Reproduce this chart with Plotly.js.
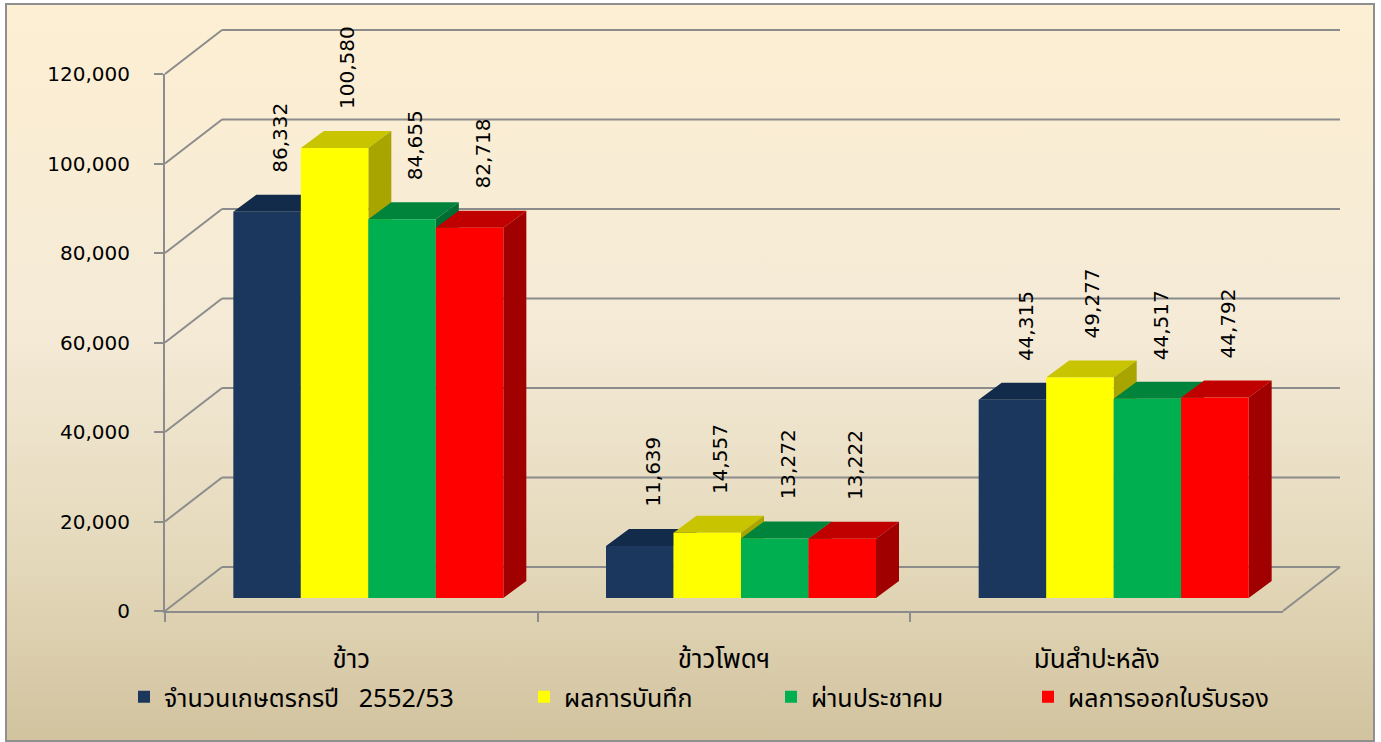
<!DOCTYPE html>
<html>
<head>
<meta charset="utf-8">
<script src="https://cdn.plot.ly/plotly-3.0.1.min.js"></script>
<style>
  html, body { margin: 0; padding: 0; background: #ffffff; }
  #wrap { position: relative; width: 1381px; height: 742px; overflow: hidden; background: #ffffff; }
  #frame { position: absolute; left: 5px; top: 3px; width: 1366px; height: 735px;
           border: 2px solid #8f8f8f;
           background: linear-gradient(to bottom, #fdefd3 0%, #f4ead6 45%, #e4d9bb 75%, #d2c39f 100%); }
  #chart { position: absolute; left: 0; top: 0; width: 1381px; height: 742px; }
</style>
</head>
<body>
<div id="wrap"><div id="frame"></div><div id="chart"></div></div>
<script>
// ---- data ----
const categories = ['ข้าว', 'ข้าวโพดฯ', 'มันสำปะหลัง'];
const seriesNames = ['จำนวนเกษตรกรปี\u00a0\u00a0\u00a02552/53', 'ผลการบันทึก', 'ผ่านประชาคม', 'ผลการออกใบรับรอง'];
const farmers2552 = [86332, 11639, 44315];
const recorded = [100580, 14557, 49277];
const community = [84655, 13272, 44517];
const certified = [82718, 13222, 44792];
const yTickVals = [0, 20000, 40000, 60000, 80000, 100000, 120000];

// ---- styles ----
const W = 1381, H = 742;
const fx = px => px / W;
const fy = py => 1 - py / H;
const frontColors = ['#1b375e', '#ffff00', '#00b050', '#ff0000'];
const topColors = ['#132b4b', '#c8c400', '#00843c', '#c00000'];
const sideColors = ['#10233f', '#a8a500', '#006e32', '#a00000'];
const gridColor = '#8c8c8c';
const numFont = 'DejaVu Sans, Verdana, sans-serif';
const thaiFont = 'Tahoma, "Noto Sans Thai", "Noto Sans", "DejaVu Sans", sans-serif';

const allSeries = [farmers2552, recorded, community, certified];
const yMax = 120000;
const bargap = 0.2755;
const nSeries = allSeries.length;
const bw = (1 - bargap) / nSeries;

// geometry of pseudo-3D (pixels)
const barLeft = 182, barRight = 1300, barBase = 598, barTop = 61;
const frontLeft = 165, frontRight = 1283, frontBase = 611, frontTop = 74;
const wallDx = 57, wallDy = 44;
const faceDxPx = 23, faceDyPx = 17;
const catPx = (barRight - barLeft) / categories.length;
const faceDx = faceDxPx / catPx;
const faceDv = faceDyPx * yMax / (barBase - barTop);

const fmt = v => v.toLocaleString('en-US');

const traces = [];
// top & side faces (base subplot, under bars)
allSeries.forEach((vals, j) => {
  const tx = [], ty = [], sx = [], sy = [];
  vals.forEach((v, i) => {
    const x0 = i + (j - nSeries / 2) * bw;
    const x1 = x0 + bw;
    tx.push(x0, x1, x1 + faceDx, x0 + faceDx, x0, null);
    ty.push(v, v, v + faceDv, v + faceDv, v, null);
    sx.push(x1, x1, x1 + faceDx, x1 + faceDx, x1, null);
    sy.push(0, v, v + faceDv, faceDv, 0, null);
  });
  traces.push({type: 'scatter', mode: 'lines', x: tx, y: ty, fill: 'toself',
    fillcolor: topColors[j], line: {width: 0}, xaxis: 'x', yaxis: 'y',
    showlegend: false, hoverinfo: 'skip'});
  traces.push({type: 'scatter', mode: 'lines', x: sx, y: sy, fill: 'toself',
    fillcolor: sideColors[j], line: {width: 0}, xaxis: 'x', yaxis: 'y',
    showlegend: false, hoverinfo: 'skip'});
});
// front faces: real bars on overlay subplot
allSeries.forEach((vals, j) => {
  traces.push({type: 'bar', name: seriesNames[j], x: [0, 1, 2], y: vals,
    marker: {color: frontColors[j], line: {width: 0}},
    xaxis: 'x3', yaxis: 'y3', legend: j === 0 ? 'legend' : 'legend' + (j + 1),
    hoverinfo: 'skip'});
});
// dummy trace to show the front (category) axis
traces.push({type: 'scatter', mode: 'markers', x: categories, y: [0, 0, 0],
  marker: {opacity: 0}, xaxis: 'x2', yaxis: 'y2', showlegend: false, hoverinfo: 'skip'});

// value labels
const annotations = [];
allSeries.forEach((vals, j) => {
  vals.forEach((v, i) => {
    const xc = i + (j - nSeries / 2 + 0.5) * bw;
    annotations.push({x: xc, y: v + faceDv, xref: 'x', yref: 'y', text: fmt(v),
      showarrow: false, textangle: -90, xanchor: 'center', yanchor: 'bottom',
      xshift: 13, yshift: 20, font: {family: numFont, size: 20, color: '#000'}});
  });
});

// back wall, diagonals and floor as shapes
const frontY = v => frontBase - v * (frontBase - frontTop) / yMax;
const shapes = [];
yTickVals.forEach(v => {
  const yf = frontY(v), yb = yf - wallDy;
  shapes.push({type: 'line', xref: 'paper', yref: 'paper', layer: 'below',
    x0: fx(frontLeft), y0: fy(yf), x1: fx(frontLeft + wallDx), y1: fy(yb),
    line: {color: gridColor, width: 2}});
  shapes.push({type: 'line', xref: 'paper', yref: 'paper', layer: 'below',
    x0: fx(frontLeft + wallDx), y0: fy(yb), x1: fx(frontRight + wallDx), y1: fy(yb),
    line: {color: gridColor, width: 2}});
});
shapes.push({type: 'line', xref: 'paper', yref: 'paper', layer: 'below',
  x0: fx(frontRight), y0: fy(frontY(0)), x1: fx(frontRight + wallDx), y1: fy(frontY(0) - wallDy),
  line: {color: gridColor, width: 2}});

const hidden = {visible: false, fixedrange: true};
const legendBase = {orientation: 'h', yanchor: 'middle', xanchor: 'left', bgcolor: 'rgba(0,0,0,0)',
  font: {family: thaiFont, size: 25, color: '#000'}, y: fy(697)};

const layout = {
  width: W, height: H,
  margin: {l: 0, r: 0, t: 0, b: 0, pad: 0},
  paper_bgcolor: 'rgba(0,0,0,0)', plot_bgcolor: 'rgba(0,0,0,0)',
  hovermode: false,
  barmode: 'group', bargap: bargap, bargroupgap: 0,
  xaxis: Object.assign({domain: [fx(barLeft), fx(barRight)], range: [-0.5, 2.5], anchor: 'y'}, hidden),
  yaxis: Object.assign({domain: [fy(barBase), fy(barTop)], range: [0, yMax], anchor: 'x'}, hidden),
  xaxis3: Object.assign({overlaying: 'x', range: [-0.5, 2.5], anchor: 'y3'}, hidden),
  yaxis3: Object.assign({overlaying: 'y', range: [0, yMax], anchor: 'x3'}, hidden),
  xaxis2: {domain: [fx(frontLeft), fx(frontRight)], anchor: 'y2', type: 'category',
    categoryarray: categories, range: [-0.5, 2.5], tickson: 'boundaries',
    showline: true, linecolor: gridColor, linewidth: 2, ticks: 'outside', ticklen: 9,
    tickcolor: gridColor, tickwidth: 2, showgrid: false, zeroline: false,
    ticklabelstandoff: 24, tickfont: {family: thaiFont, size: 26, color: '#000'}, fixedrange: true},
  yaxis2: {domain: [fy(frontBase), fy(frontTop)], anchor: 'x2', range: [0, yMax],
    tickvals: yTickVals, ticktext: yTickVals.map(fmt),
    showline: true, linecolor: gridColor, linewidth: 2, ticks: 'outside', ticklen: 9,
    tickcolor: gridColor, tickwidth: 2, showgrid: false, zeroline: false,
    ticklabelstandoff: 20, tickfont: {family: numFont, size: 20, color: '#000'}, fixedrange: true},
  legend: Object.assign({}, legendBase, {x: fx(124)}),
  legend2: Object.assign({}, legendBase, {x: fx(524)}),
  legend3: Object.assign({}, legendBase, {x: fx(771)}),
  legend4: Object.assign({}, legendBase, {x: fx(1028)}),
  annotations: annotations,
  shapes: shapes
};

Plotly.newPlot('chart', traces, layout, {displayModeBar: false, staticPlot: true});
</script>
</body>
</html>
